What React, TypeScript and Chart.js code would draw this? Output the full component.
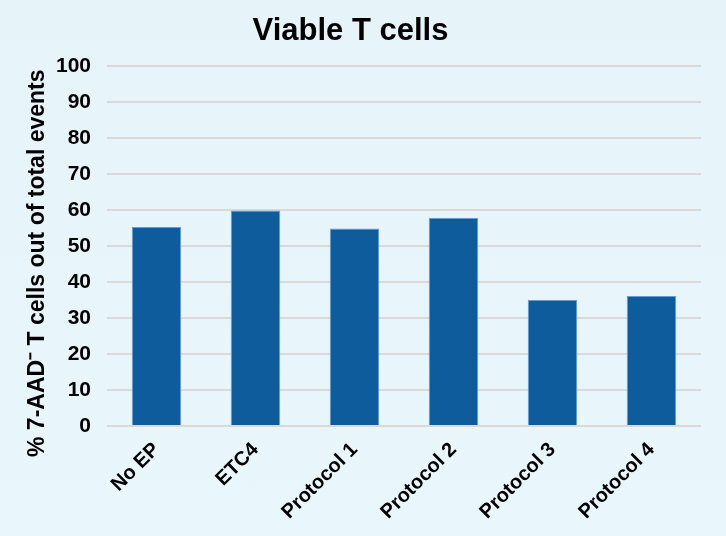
import { useEffect, useRef } from "react"
import { Chart, registerables } from "chart.js"

Chart.register(...registerables)

// Values
const groups = ["No EP", "ETC4", "Protocol 1", "Protocol 2", "Protocol 3", "Protocol 4"]
const viableCells = [55.3, 59.9, 54.9, 57.8, 35.0, 36.1]
const yTicks = [0, 10, 20, 30, 40, 50, 60, 70, 80, 90, 100]
const yAxisTitle = "% 7-AAD\u207B T cells out of total events"

const NARROW = "'Liberation Sans Narrow', 'Arial Narrow', 'Liberation Sans', Arial, sans-serif"
const SANS = "'Liberation Sans', Arial, sans-serif"

// The y title in the reference sits lower than the plot centre, so it is drawn by hand
const yTitlePlugin = {
  id: "yTitle",
  afterDraw(chart: any) {
    const ctx = chart.ctx
    ctx.save()
    ctx.translate(38, 457)
    ctx.rotate(-Math.PI / 2)
    ctx.font = `bold 23px ${SANS}`
    ctx.fillStyle = "#000000"
    ctx.textAlign = "left"
    ctx.textBaseline = "middle"
    ctx.fillText(yAxisTitle, 0, 0)
    ctx.restore()
  },
}

export default function App() {
  const chartRef = useRef<HTMLCanvasElement>(null)
  const chartInstance = useRef<Chart | null>(null)

  useEffect(() => {
    if (!chartRef.current) return

    // Destroy existing chart
    if (chartInstance.current) {
      chartInstance.current.destroy()
    }

    chartInstance.current = new Chart(chartRef.current, {
      type: "bar",
      data: {
        labels: groups,
        datasets: [
          {
            label: "Viable T cells",
            data: viableCells,
            backgroundColor: "#0f5c9d",
            borderColor: "#6a9ccf",
            borderWidth: 1,
            barPercentage: 0.5,
            categoryPercentage: 1,
          },
        ],
      },
      options: {
        animation: false,
        responsive: true,
        maintainAspectRatio: false,
        layout: {
          padding: { left: 0, right: 25, top: 0, bottom: 0 },
        },
        plugins: {
          legend: { display: false },
          tooltip: { enabled: false },
          title: {
            display: true,
            text: "Viable T cells",
            color: "#000000",
            font: { family: NARROW, size: 31, weight: "bold", lineHeight: 1.2 },
            padding: { top: 13, bottom: 16 },
          },
        },
        scales: {
          x: {
            grid: { display: false },
            border: { display: false },
            ticks: {
              color: "#000000",
              font: { family: SANS, size: 20, weight: "bold" },
              minRotation: 45,
              maxRotation: 45,
              padding: 4,
            },
            afterFit: (scale: any) => {
              scale.height = 110
            },
          },
          y: {
            min: 0,
            max: 100,
            afterBuildTicks: (scale: any) => {
              scale.ticks = yTicks.map((v) => ({ value: v }))
            },
            grid: {
              color: "#d9d9d9",
              lineWidth: 2,
              drawTicks: false,
            },
            border: { display: false },
            ticks: {
              color: "#000000",
              font: { family: NARROW, size: 21, weight: "bold" },
              padding: 16,
            },
            afterFit: (scale: any) => {
              scale.width = 107
            },
          },
        },
      },
      plugins: [yTitlePlugin],
    })

    return () => {
      if (chartInstance.current) {
        chartInstance.current.destroy()
      }
    }
  }, [])

  return (
    <div
      style={{
        position: "fixed",
        left: 0,
        top: 0,
        width: 726,
        height: 536,
        background: "linear-gradient(180deg, #e6f4fa 0%, #e9f6fb 100%)",
      }}
    >
      <canvas ref={chartRef} />
    </div>
  )
}
